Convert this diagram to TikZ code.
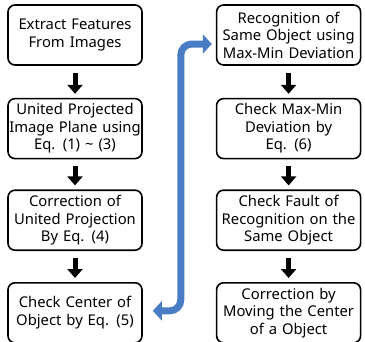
\documentclass[tikz,border=0pt]{standalone}
\usepackage{fontspec}
\setmainfont{Noto Sans}[WordSpace={1.3,0,0}]
\usetikzlibrary{positioning, arrows.meta}

\definecolor{linkblue}{RGB}{72,124,196}

\tikzset{
  stage/.style={draw, line width=1.6pt, rounded corners=7pt, align=center,
    minimum height=60pt, inner sep=0pt,
    font=\fontsize{14.8}{17.5}\selectfont},
  leftstage/.style={stage, minimum width=134pt, text width=133pt},
  rightstage/.style={stage, minimum width=144pt, text width=143pt},
  flow/.style={line width=5pt, -{Triangle[length=9pt,width=15pt]},
    shorten <=7pt, shorten >=4pt},
  backlink/.style={linkblue, line width=7pt, rounded corners=11pt,
    {Triangle[length=9pt,width=19pt]}-{Triangle[length=9pt,width=19pt]},
    shorten <=10pt, shorten >=4pt}
}

\begin{document}
\begin{tikzpicture}
    \useasboundingbox (0pt,0pt) rectangle (365pt,-341pt);

    % left column
    \node[leftstage] (L1) at (75pt,-35pt) {Extract Features\\From Images};
    \node[leftstage] (L2) [below=32pt of L1] {United Projected\\Image Plane using\\Eq. (1) \textasciitilde{} (3)};
    \node[leftstage] (L3) [below=30pt of L2] {Correction of\\United Projection\\By Eq. (4)};
    \node[leftstage] (L4) [below=31pt of L3] {Check Center of\\Object by Eq. (5)};

    % right column
    \node[rightstage] (R1) [right=73pt of L1] {Recognition of\\Same Object using\\Max-Min Deviation};
    \node[rightstage] (R2) [below=32pt of R1] {Check Max-Min\\Deviation by\\Eq. (6)};
    \node[rightstage] (R3) [below=30pt of R2] {Check Fault of\\Recognition on the\\Same Object};
    \node[rightstage] (R4) [below=31pt of R3] {Correction by\\Moving the Center\\of a Object};

    \draw[flow] (L1) -- (L2);
    \draw[flow] (L2) -- (L3);
    \draw[flow] (L3) -- (L4);
    \draw[flow] (R1) -- (R2);
    \draw[flow] (R2) -- (R3);
    \draw[flow] (R3) -- (R4);

    \draw[backlink] ([yshift=2pt]L4.east) -- ++(38pt,0) |- ([yshift=-9pt]R1.west);
\end{tikzpicture}
\end{document}
